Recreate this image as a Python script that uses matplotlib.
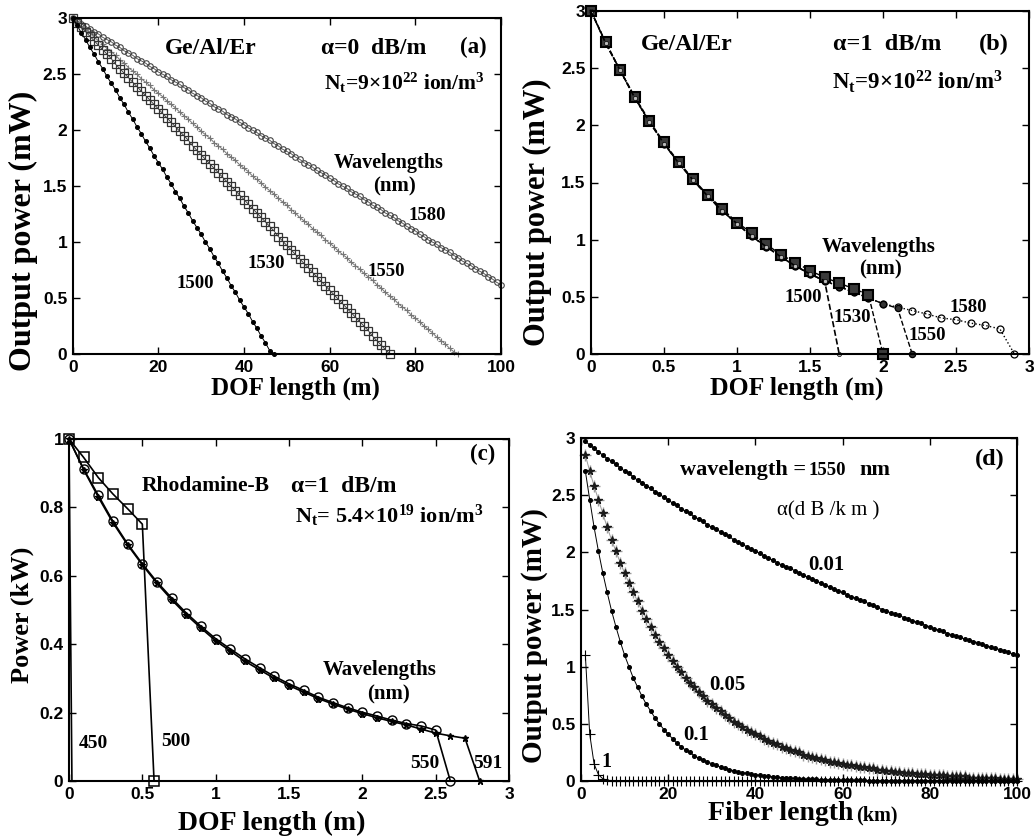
import numpy as np
import matplotlib
matplotlib.use('Agg')
import matplotlib.pyplot as plt
from matplotlib.ticker import MultipleLocator, FuncFormatter

plt.rcParams['font.family'] = 'Liberation Sans'
plt.rcParams['font.weight'] = 'bold'
plt.rcParams['mathtext.fontset'] = 'custom'
plt.rcParams['mathtext.rm'] = 'Liberation Serif:bold'
plt.rcParams['mathtext.it'] = 'Liberation Serif:bold'
plt.rcParams['mathtext.bf'] = 'Liberation Serif:bold'

SERIF = 'Liberation Serif'

# ---------------- (a) alpha = 0 dB/m, 1 m step ----------------
a_1500 = [3.00, 2.94, 2.87, 2.81, 2.74, 2.68, 2.61, 2.55, 2.48, 2.42,
          2.36, 2.29, 2.23, 2.16, 2.10, 2.03, 1.97, 1.90, 1.84, 1.77,
          1.71, 1.65, 1.58, 1.52, 1.45, 1.39, 1.32, 1.26, 1.19, 1.13,
          1.07, 1.00, 0.94, 0.87, 0.81, 0.74, 0.68, 0.61, 0.55, 0.48,
          0.42, 0.36, 0.29, 0.23, 0.16, 0.10, 0.03, 0.00]
a_1530 = [3.00, 2.96, 2.92, 2.88, 2.84, 2.80, 2.76, 2.72, 2.68, 2.64,
          2.59, 2.55, 2.51, 2.47, 2.43, 2.39, 2.35, 2.31, 2.27, 2.23,
          2.19, 2.15, 2.11, 2.07, 2.03, 1.99, 1.95, 1.91, 1.86, 1.82,
          1.78, 1.74, 1.70, 1.66, 1.62, 1.58, 1.54, 1.50, 1.46, 1.42,
          1.38, 1.34, 1.30, 1.26, 1.22, 1.18, 1.14, 1.10, 1.05, 1.01,
          0.97, 0.93, 0.89, 0.85, 0.81, 0.77, 0.73, 0.69, 0.65, 0.61,
          0.57, 0.53, 0.49, 0.45, 0.41, 0.37, 0.33, 0.29, 0.25, 0.21,
          0.16, 0.12, 0.08, 0.04, 0.00]
a_1550 = [3.00, 2.97, 2.93, 2.90, 2.87, 2.83, 2.80, 2.77, 2.73, 2.70,
          2.67, 2.63, 2.60, 2.56, 2.53, 2.50, 2.46, 2.43, 2.40, 2.36,
          2.33, 2.30, 2.26, 2.23, 2.20, 2.16, 2.13, 2.10, 2.06, 2.03,
          1.99, 1.96, 1.93, 1.89, 1.86, 1.83, 1.79, 1.76, 1.73, 1.69,
          1.66, 1.63, 1.59, 1.56, 1.53, 1.49, 1.46, 1.43, 1.39, 1.36,
          1.33, 1.29, 1.26, 1.22, 1.19, 1.16, 1.12, 1.09, 1.06, 1.02,
          0.99, 0.96, 0.92, 0.89, 0.86, 0.82, 0.79, 0.76, 0.72, 0.69,
          0.66, 0.62, 0.59, 0.55, 0.52, 0.49, 0.45, 0.42, 0.39, 0.35,
          0.32, 0.29, 0.25, 0.22, 0.19, 0.15, 0.12, 0.09, 0.05, 0.02,
          0.00]
a_1580 = [3.00, 2.98, 2.95, 2.93, 2.90, 2.88, 2.86, 2.83, 2.81, 2.79,
          2.76, 2.74, 2.71, 2.69, 2.67, 2.64, 2.62, 2.60, 2.57, 2.55,
          2.52, 2.50, 2.48, 2.45, 2.43, 2.41, 2.38, 2.36, 2.33, 2.31,
          2.29, 2.26, 2.24, 2.21, 2.19, 2.17, 2.14, 2.12, 2.10, 2.07,
          2.05, 2.02, 2.00, 1.98, 1.95, 1.93, 1.91, 1.88, 1.86, 1.83,
          1.81, 1.79, 1.76, 1.74, 1.71, 1.69, 1.67, 1.64, 1.62, 1.60,
          1.57, 1.55, 1.52, 1.50, 1.48, 1.45, 1.43, 1.41, 1.38, 1.36,
          1.33, 1.31, 1.29, 1.26, 1.24, 1.22, 1.19, 1.17, 1.14, 1.12,
          1.10, 1.07, 1.05, 1.02, 1.00, 0.98, 0.95, 0.93, 0.91, 0.88,
          0.86, 0.83, 0.81, 0.79, 0.76, 0.74, 0.72, 0.69, 0.67, 0.64,
          0.62]

# ---------------- (b) alpha = 1 dB/m, 0.1 m step ----------------
b_1500 = [3.00, 2.72, 2.48, 2.24, 2.03, 1.84, 1.67, 1.52, 1.38, 1.25,
          1.14, 1.03, 0.94, 0.85, 0.77, 0.70, 0.64, 0.00]
b_1530 = [3.00, 2.73, 2.48, 2.25, 2.04, 1.85, 1.68, 1.53, 1.39, 1.27,
          1.15, 1.06, 0.96, 0.87, 0.80, 0.73, 0.67, 0.62, 0.57, 0.52,
          0.00]
b_1550 = [3.00, 2.72, 2.48, 2.24, 2.03, 1.84, 1.67, 1.52, 1.38, 1.25,
          1.14, 1.03, 0.94, 0.85, 0.77, 0.70, 0.64, 0.59, 0.54, 0.49,
          0.44, 0.40, 0.00]
b_1580 = [3.00, 2.72, 2.48, 2.24, 2.03, 1.84, 1.67, 1.52, 1.38, 1.25,
          1.14, 1.03, 0.94, 0.85, 0.77, 0.70, 0.64, 0.59, 0.54, 0.49,
          0.44, 0.41, 0.38, 0.35, 0.315, 0.30, 0.27, 0.25, 0.22, 0.00]

# ---------------- (c) Rhodamine-B ----------------
c_450_x = [0.0, 0.02]
c_450 = [1.0, 0.0]
c_500_x = [0.0, 0.1, 0.2, 0.3, 0.4, 0.5, 0.58]
c_500 = [1.00, 0.946, 0.887, 0.839, 0.796, 0.751, 0.00]
c_550_x = [0.0, 0.1, 0.2, 0.3, 0.4, 0.5, 0.6, 0.7, 0.8, 0.9, 1.0, 1.1, 1.2,
           1.3, 1.4, 1.5, 1.6, 1.7, 1.8, 1.9, 2.0, 2.1, 2.2, 2.3, 2.4, 2.5,
           2.6]
c_550 = [1.00, 0.912, 0.835, 0.759, 0.693, 0.635, 0.582, 0.535, 0.491,
         0.452, 0.416, 0.386, 0.357, 0.331, 0.306, 0.284, 0.265, 0.245,
         0.229, 0.214, 0.201, 0.190, 0.178, 0.168, 0.161, 0.149, 0.00]
c_591_x = [0.0, 0.1, 0.2, 0.3, 0.4, 0.5, 0.6, 0.7, 0.8, 0.9, 1.0, 1.1, 1.2,
           1.3, 1.4, 1.5, 1.6, 1.7, 1.8, 1.9, 2.0, 2.1, 2.2, 2.3, 2.4, 2.5,
           2.6, 2.7, 2.8]
c_591 = [1.00, 0.91, 0.83, 0.755, 0.69, 0.632, 0.578, 0.53, 0.486, 0.447,
         0.41, 0.38, 0.35, 0.325, 0.30, 0.279, 0.26, 0.241, 0.225, 0.21,
         0.197, 0.185, 0.174, 0.164, 0.152, 0.14, 0.132, 0.125, 0.00]

# ---------------- (d) fiber, 1 km step starting at 1 km ----------------
d_001 = [2.97, 2.94, 2.91, 2.88, 2.85, 2.82, 2.80, 2.77, 2.74, 2.71,
         2.69, 2.66, 2.63, 2.61, 2.58, 2.56, 2.53, 2.51, 2.48, 2.46,
         2.43, 2.41, 2.38, 2.36, 2.34, 2.31, 2.29, 2.27, 2.24, 2.22,
         2.20, 2.18, 2.16, 2.14, 2.11, 2.09, 2.07, 2.05, 2.03, 2.01,
         1.99, 1.97, 1.95, 1.93, 1.91, 1.89, 1.87, 1.86, 1.84, 1.82,
         1.80, 1.78, 1.77, 1.75, 1.73, 1.71, 1.70, 1.68, 1.66, 1.65,
         1.63, 1.61, 1.60, 1.58, 1.57, 1.55, 1.54, 1.52, 1.50, 1.49,
         1.47, 1.46, 1.45, 1.43, 1.42, 1.40, 1.39, 1.38, 1.36, 1.35,
         1.33, 1.32, 1.31, 1.29, 1.28, 1.27, 1.26, 1.24, 1.23, 1.22,
         1.21, 1.20, 1.18, 1.17, 1.16, 1.15, 1.14, 1.13, 1.11, 1.10]
d_005 = [2.85, 2.71, 2.58, 2.46, 2.34, 2.22, 2.11, 2.01, 1.91, 1.82,
         1.73, 1.65, 1.57, 1.49, 1.42, 1.35, 1.28, 1.22, 1.16, 1.10,
         1.05, 1.00, 0.95, 0.90, 0.86, 0.82, 0.78, 0.74, 0.70, 0.67,
         0.64, 0.61, 0.58, 0.55, 0.52, 0.50, 0.47, 0.45, 0.43, 0.41,
         0.39, 0.37, 0.35, 0.33, 0.32, 0.30, 0.29, 0.27, 0.26, 0.25,
         0.23, 0.22, 0.21, 0.20, 0.19, 0.18, 0.17, 0.17, 0.16, 0.15,
         0.14, 0.14, 0.13, 0.12, 0.12, 0.11, 0.11, 0.10, 0.10, 0.09,
         0.09, 0.08, 0.08, 0.07, 0.07, 0.07, 0.06, 0.06, 0.06, 0.05,
         0.05, 0.05, 0.05, 0.04, 0.04, 0.04, 0.04, 0.04, 0.03, 0.03,
         0.03, 0.03, 0.03, 0.03, 0.03, 0.02, 0.02, 0.02, 0.02, 0.02]
d_01 = [2.71, 2.46, 2.22, 2.01, 1.82, 1.65, 1.49, 1.35, 1.22, 1.10,
        1.00, 0.90, 0.82, 0.74, 0.67, 0.61, 0.55, 0.50, 0.45, 0.41,
        0.37, 0.33, 0.30, 0.27, 0.25, 0.22, 0.20, 0.18, 0.17, 0.15,
        0.14, 0.12, 0.11, 0.10, 0.09, 0.08, 0.07, 0.07, 0.06, 0.055,
        0.050, 0.045, 0.041, 0.037, 0.033, 0.030, 0.027, 0.025, 0.022, 0.020,
        0.018, 0.017, 0.015, 0.014, 0.012, 0.011, 0.010, 0.009, 0.008, 0.007,
        0.007, 0.006, 0.006, 0.005, 0.005, 0.004, 0.004, 0.003, 0.003, 0.003,
        0.002, 0.002, 0.002, 0.002, 0.002, 0.002, 0.001, 0.001, 0.001, 0.001,
        0.001, 0.001, 0.001, 0.001, 0.001, 0.001, 0.001, 0.001, 0.001, 0.001,
        0.0, 0.0, 0.0, 0.0, 0.0, 0.0, 0.0, 0.0, 0.0, 0.0]
d_1 = [1.10, 0.41, 0.15, 0.055, 0.020, 0.007, 0.003, 0.001, 0.0, 0.0,
       0, 0, 0, 0, 0, 0, 0, 0, 0, 0,
       0, 0, 0, 0, 0, 0, 0, 0, 0, 0,
       0, 0, 0, 0, 0, 0, 0, 0, 0, 0,
       0, 0, 0, 0, 0, 0, 0, 0, 0, 0,
       0, 0, 0, 0, 0, 0, 0, 0, 0, 0,
       0, 0, 0, 0, 0, 0, 0, 0, 0, 0,
       0, 0, 0, 0, 0, 0, 0, 0, 0, 0,
       0, 0, 0, 0, 0, 0, 0, 0, 0, 0,
       0, 0, 0, 0, 0, 0, 0, 0, 0, 0]

W, H = 1034, 836
fig = plt.figure(figsize=(W / 100, H / 100), dpi=100)


def px_axes(l, t, r, b):
    return fig.add_axes([l / W, 1 - b / H, (r - l) / W, (b - t) / H])


def ftext(x, y, s, size=15, weight='bold', **kw):
    kw.setdefault('ha', 'center')
    kw.setdefault('va', 'center')
    fig.text(x / W, 1 - y / H, s, family=SERIF, size=size, weight=weight, **kw)


def style(ax, xmax, ymax, xstep, ystep):
    ax.set_xlim(0, xmax)
    ax.set_ylim(0, ymax)
    ax.xaxis.set_major_locator(MultipleLocator(xstep))
    ax.yaxis.set_major_locator(MultipleLocator(ystep))
    fmt = FuncFormatter(lambda v, p: '%g' % round(v, 6))
    ax.xaxis.set_major_formatter(fmt)
    ax.yaxis.set_major_formatter(fmt)
    ax.tick_params(direction='in', length=5, width=1, top=True, right=True,
                   labelsize=12.5, pad=4)
    for sp in ax.spines.values():
        sp.set_linewidth(1.5)


# (a)
ax = px_axes(72.7, 18.3, 501, 354)
ax.plot(np.arange(len(a_1580)), a_1580, '-o', color='#444444', lw=0.6, ms=4,
        mfc='none', mew=0.8, clip_on=False)
ax.plot(np.arange(len(a_1550)), a_1550, '-+', color='#777777', lw=0.7, ms=5,
        mew=0.8, clip_on=False)
ax.plot(np.arange(len(a_1530)), a_1530, '-s', color='#333333', lw=0.6, ms=5.5,
        mfc='none', mew=0.9, clip_on=False)
ax.plot(np.arange(len(a_1500)), a_1500, '-o', color='black', lw=0.7, ms=2.6,
        clip_on=False)
style(ax, 100, 3, 20, 0.5)

# (b)
ax = px_axes(591, 11, 1029, 354)
ax.plot(np.arange(len(b_1580)) * 0.1, b_1580, ':o', color='black', lw=1.0,
        ms=5, mfc='none', mew=0.9, clip_on=False)
ax.plot(np.arange(len(b_1550)) * 0.1, b_1550, '--o', color='black', lw=1.0,
        ms=4.5, mfc='#333333', mew=0.9, clip_on=False)
ax.plot(np.arange(len(b_1530)) * 0.1, b_1530, '--s', color='black', lw=1.0,
        ms=6.5, mfc='#3a3a3a', mew=1.5, clip_on=False)
ax.plot(np.arange(len(b_1500)) * 0.1, b_1500, '--o', color='black', lw=1.2,
        ms=3, mfc='#bbbbbb', mew=0.5, clip_on=False)
style(ax, 3, 3, 0.5, 0.5)

# (c)
ax = px_axes(69, 439, 509, 781)
ax.plot(c_450_x, c_450, '-', color='black', lw=1.2, clip_on=False)
ax.plot(c_591_x, c_591, '-*', color='black', lw=1.2, ms=4.5, clip_on=False)
ax.plot(c_550_x, c_550, '-o', color='black', lw=1.2, ms=6.5, mfc='none',
        mew=1.0, clip_on=False)
ax.plot(c_500_x, c_500, '-s', color='black', lw=1.2, ms=7.5, mfc='none',
        mew=1.1, clip_on=False)
style(ax, 3, 1, 0.5, 0.2)

# (d)
ax = px_axes(581, 438, 1017, 781)
dx = np.arange(1, 101)
ax.plot(dx, d_001, '-o', color='black', lw=0.7, ms=2.6, clip_on=False)
ax.plot(dx, d_005, '-+', color='#9a9a9a', lw=0.7, ms=8, mew=1.0, clip_on=False)
ax.plot(dx, d_005, '*', color='#1a1a1a', ms=5.5, clip_on=False)
ax.plot(dx, d_01, '-o', color='black', lw=0.7, ms=2.6, clip_on=False)
ax.plot(dx, d_1, '-+', color='black', lw=0.7, ms=6.5, mew=0.8, clip_on=False)
style(ax, 100, 3, 20, 0.5)

# axis labels
ftext(295, 388, 'DOF length (m)', size=18)
ftext(23, 231, 'Output power (mW)', size=23, rotation=90)
ftext(797, 388, 'DOF length (m)', size=18.5)
ftext(537, 212, 'Output power (mW)', size=22, rotation=90)
ftext(272, 823, 'DOF length (m)', size=20)
ftext(22, 615, 'Power (kW)', size=19, rotation=90)
ftext(853, 820, 'Fiber length', size=20, ha='right', va='baseline')
ftext(856, 820, '(km)', size=14.5, ha='left', va='baseline')
ftext(534, 636, 'Output power (mW)', size=21, rotation=90)

# (a) annotations
ftext(211, 48, 'Ge/Al/Er', size=17)
ftext(374, 48, 'α=0  dB/m', size=17)
ftext(473, 47, '(a)', size=16.5)
ftext(404, 83, r'N$_\mathrm{t}$=9×10$^{22}$ ion/m$^3$', size=15.5)
ftext(389, 163, 'Wavelengths', size=14.5)
ftext(394, 186, '(nm)', size=15)
ftext(427, 215, '1580', size=13.5)
ftext(386, 272, '1550', size=13.5)
ftext(266, 263, '1530', size=13.5)
ftext(195, 283, '1500', size=13.5)

# (b) annotations
ftext(687, 44, 'Ge/Al/Er', size=17)
ftext(887, 44, 'α=1  dB/m', size=17.5)
ftext(994, 44, '(b)', size=17.5)
ftext(917, 82, r'N$_\mathrm{t}$=9×10$^{22}$ ion/m$^3$', size=16.5)
ftext(879, 247, 'Wavelengths', size=15)
ftext(881, 269, '(nm)', size=15)
ftext(803, 297, '1500', size=13.5)
ftext(852, 317, '1530', size=13.5)
ftext(927, 335, '1550', size=13.5)
ftext(968, 308, '1580', size=13.5)

# (c) annotations
ftext(483, 454, '(c)', size=16.5)
ftext(206, 486, 'Rhodamine-B', size=15.5)
ftext(344, 486, 'α=1  dB/m', size=17)
ftext(389, 516, r'N$_\mathrm{t}$= 5.4×10$^{19}$ ion/m$^3$', size=16)
ftext(380, 670, 'Wavelengths', size=15)
ftext(388, 694, '(nm)', size=15)
ftext(93, 744, '450', size=14)
ftext(176, 741, '500', size=14)
ftext(425, 763, '550', size=14)
ftext(488, 763, '591', size=14)

# (d) annotations
ftext(990, 459, '(d)', size=17.5)
ftext(680, 475, 'wavelength =', size=16, ha='left', va='baseline')
ftext(809, 475, '1550', size=13.5, ha='left', va='baseline')
ftext(859, 475, 'nm', size=16, ha='left', va='baseline')
ftext(828, 511, 'α(d B /k m )', size=15, weight='normal')
ftext(826, 565, '0.01', size=15)
ftext(727, 685, '0.05', size=15)
ftext(696, 735, '0.1', size=15)
ftext(606, 762, '1', size=14.5)

fig.savefig('out.png', dpi=100)
